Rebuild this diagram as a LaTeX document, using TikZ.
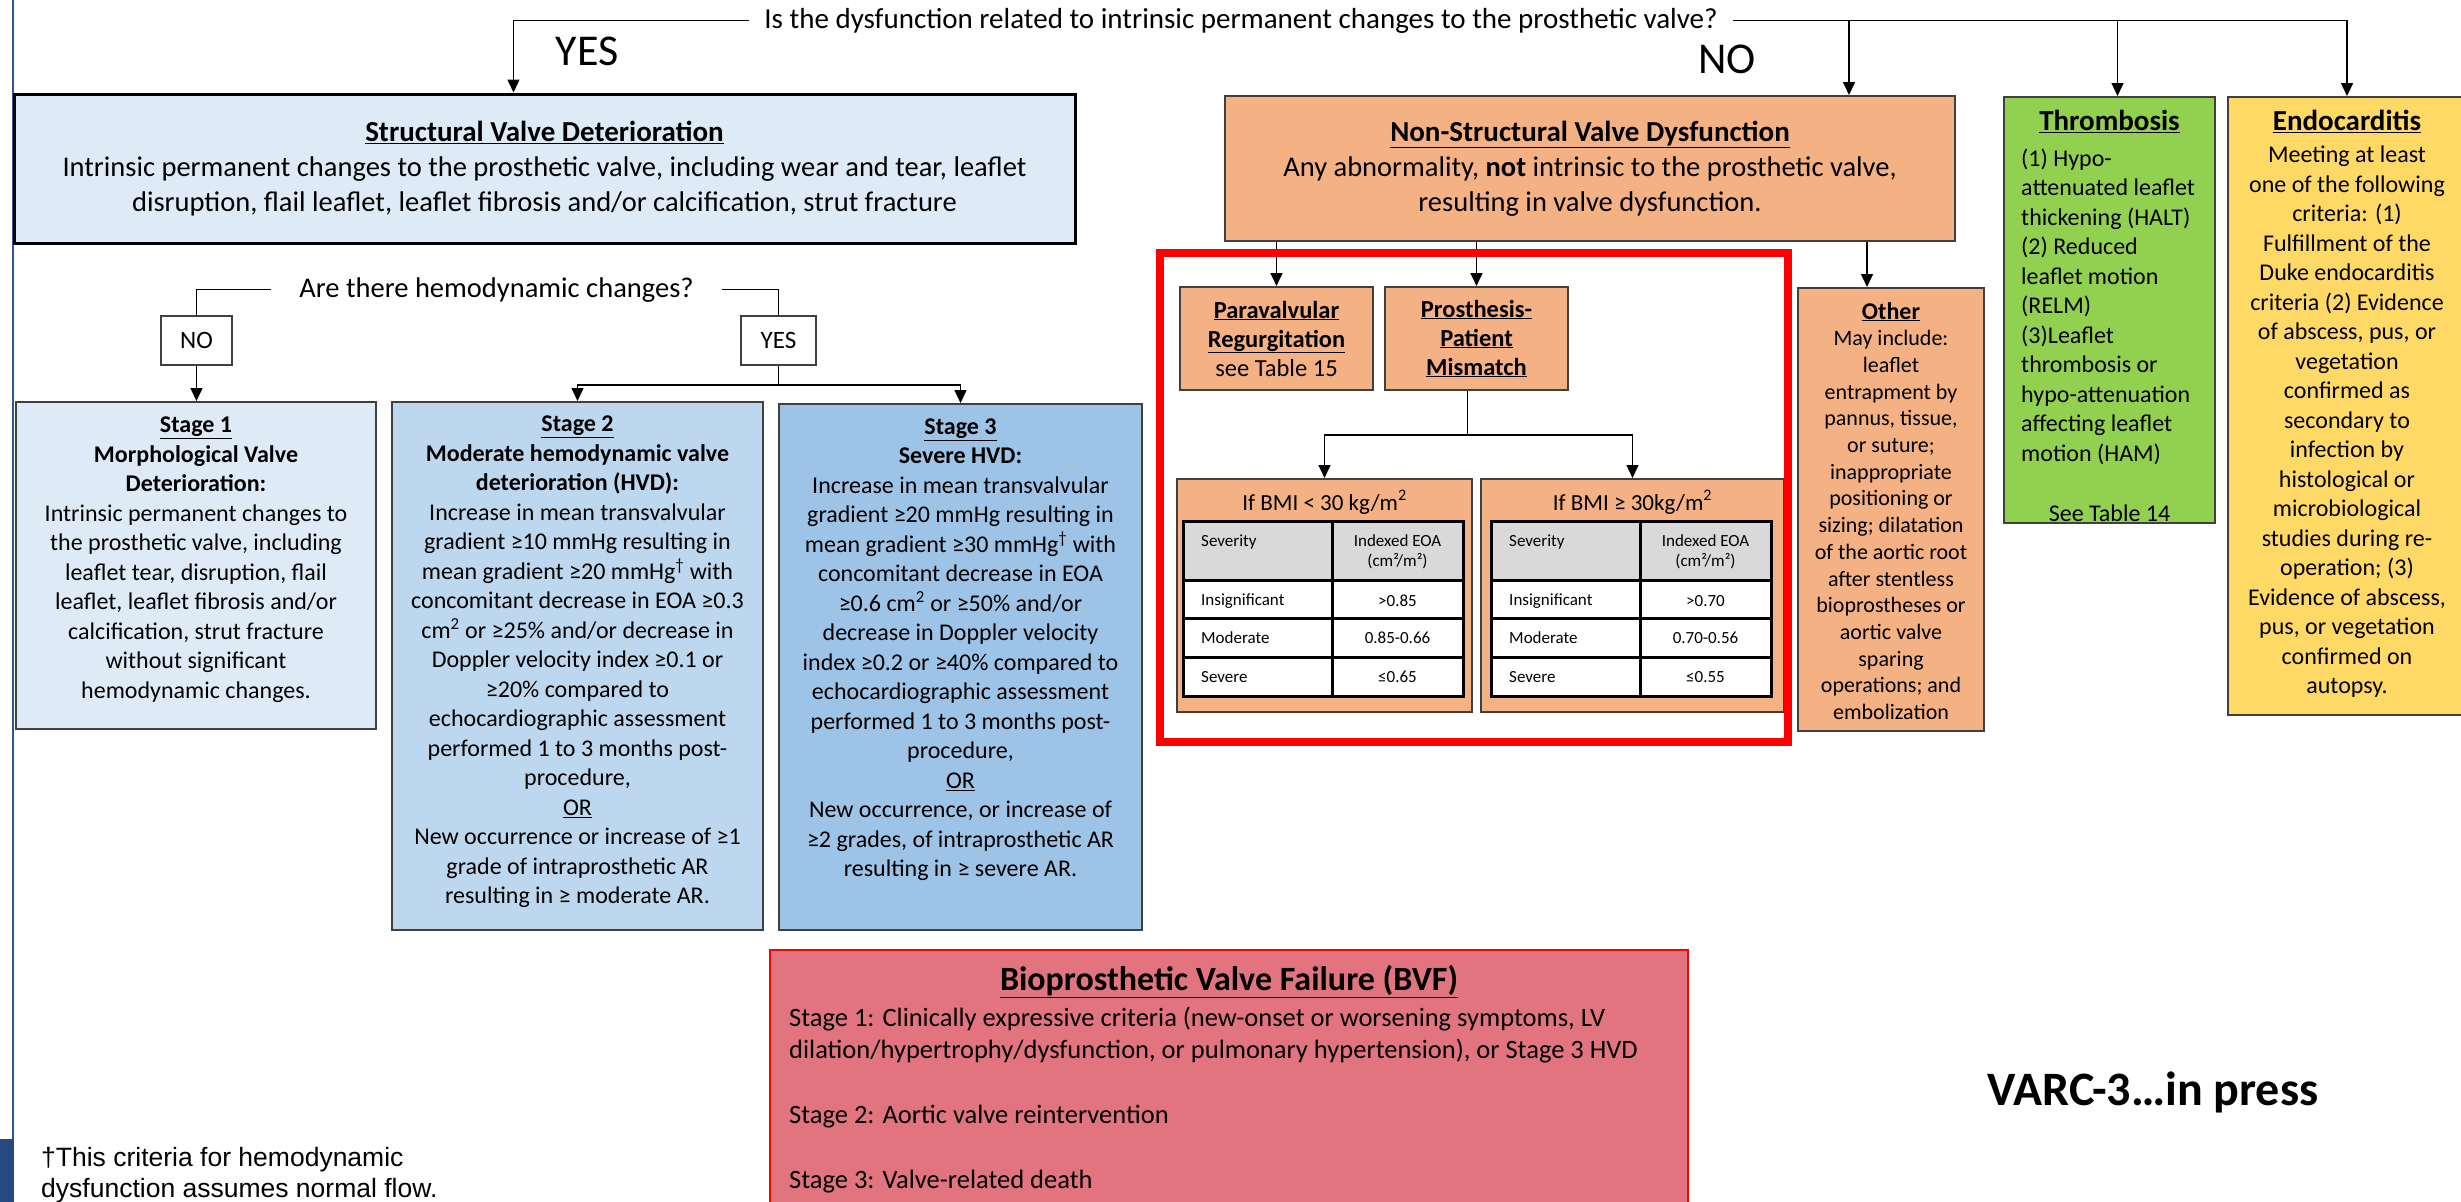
\documentclass[tikz,border=0pt]{standalone}
\usepackage{fontspec}
\setmainfont{Carlito}
\newfontfamily\notefont{Liberation Sans}
\usetikzlibrary{arrows.meta, positioning, calc}
\definecolor{Edge}{HTML}{404040}
\definecolor{PaleBlue}{HTML}{DEEBF7}
\definecolor{MidBlue}{HTML}{BDD7EE}
\definecolor{DeepBlue}{HTML}{9DC3E6}
\definecolor{Peach}{HTML}{F4B183}
\definecolor{Leaf}{HTML}{92D050}
\definecolor{Sun}{HTML}{FFD966}
\definecolor{Rose}{HTML}{E27480}
\definecolor{Alarm}{HTML}{FF0000}
\definecolor{HeadGrey}{HTML}{D9D9D9}
\definecolor{SideBlue}{HTML}{2F5597}
\newcommand{\fsz}[2]{\fontsize{#1}{#2}\selectfont}
\newcommand{\uttl}[1]{\underline{\textbf{#1}}}
% severity table of the mismatch boxes
\newcommand{\eoatable}[5]{%
  \begin{scope}[shift={#2}]
    \fill[HeadGrey] (0,0) rectangle (280,59);
    \fill[white] (0,59) rectangle (280,175);
    \draw[line width=3pt] (0,0) rectangle (280,175)
      (0,59) -- (280,59) (0,97) -- (280,97) (0,136) -- (280,136) (149,0) -- (149,175);
    \node[cell, anchor=west] (#1sev) at (18,21) {Severity};
    \node[cell] (#1eoa) at (214.5,31) {Indexed EOA\\(cm²/m²)};
    \node[cell, anchor=west] (#1ins) at (18,80) {Insignificant};
    \node[cell, anchor=west] (#1mod) at (18,117) {Moderate};
    \node[cell, anchor=west] (#1sevr) at (18,156) {Severe};
    \node[cell] (#1insv) at (214.5,80) {#3};
    \node[cell] (#1modv) at (214.5,117) {#4};
    \node[cell] (#1sevv) at (214.5,156) {#5};
  \end{scope}}

\begin{document}
\begin{tikzpicture}[x=1pt, y=-1pt,
  font=\fsz{24}{29.5},
  box/.style={draw=Edge, line width=2pt, inner sep=0pt, align=center},
  svdbox/.style={box, draw=black, line width=3pt, fill=PaleBlue},
  peach/.style={box, fill=Peach},
  txt/.style={inner sep=0pt, align=center},
  cell/.style={inner sep=0pt, align=center, font=\fsz{17}{20}},
  arr/.style={-{Triangle[length=13pt, width=12pt]}, line width=1.5pt},
  ln/.style={line width=1.5pt}
]
\useasboundingbox (0,0) rectangle (2461,1202);

% left margin rule
\draw[SideBlue, line width=2pt] (13,0) -- (13,1202);
\fill[SideBlue!85!black] (0,1139) rectangle (14,1202);

% first question
\node[txt, inner xsep=15pt, font=\fsz{29}{34}, anchor=base] (quest) at (1241,28) {Is the dysfunction related to intrinsic permanent changes to the prosthetic valve?};
\node[txt, font=\fsz{44}{52}, anchor=base] (bigyes) at (587,65) {YES};
\node[txt, font=\fsz{44}{52}, anchor=base] (bigno) at (1727,73) {NO};

\node[svdbox, minimum width=1061pt, minimum height=149pt, font=\fsz{28.5}{35}] (svd) at (544.5,168.5) {{\fsz{29}{35}\uttl{Structural Valve Deterioration}}\\Intrinsic permanent changes to the prosthetic valve, including wear and tear, leaflet\\disruption, flail leaflet, leaflet fibrosis and/or calcification, strut fracture};
\node[peach, minimum width=730pt, minimum height=145pt, font=\fsz{28.5}{35}] (nsvd) at (1590,168.5) {{\fsz{29}{35}\uttl{Non-Structural Valve Dysfunction}}\\Any abnormality, \textbf{not} intrinsic to the prosthetic valve,\\resulting in valve dysfunction.};

\node[box, fill=Leaf, minimum width=211pt, minimum height=426pt] (thromb) at (2109.5,310) {};
\node[txt, anchor=north, font=\fsz{29}{34}] (thrombttl) at ([yshift=-14pt]thromb.north) {\uttl{Thrombosis}};
\node[txt, anchor=north west, align=left] (thrombtxt) at (2021,148.4) {(1) Hypo-\\attenuated leaflet\\thickening (HALT)\\(2) Reduced\\leaflet motion\\(RELM)\\(3)Leaflet\\thrombosis or\\hypo-attenuation\\affecting leaflet\\motion (HAM)};
\node[txt] (thrombref) at (2109.5,513) {See Table 14};

\node[box, fill=Sun, minimum width=238pt, minimum height=618pt] (endo) at (2347,406) {};
\node[txt, anchor=north, font=\fsz{29}{34}] (endottl) at ([yshift=-14pt]endo.north) {\uttl{Endocarditis}};
\node[txt, anchor=north] (endotxt) at ([yshift=-50pt]endo.north) {Meeting at least\\one of the following\\criteria: (1)\\Fulfillment of the\\Duke endocarditis\\criteria (2) Evidence\\of abscess, pus, or\\vegetation\\confirmed as\\secondary to\\infection by\\histological or\\microbiological\\studies during re-\\operation; (3)\\Evidence of abscess,\\pus, or vegetation\\confirmed on\\autopsy.};

\coordinate (nsvdin) at ([xshift=259pt]nsvd.north);
\coordinate (thrin) at ([xshift=8pt]thromb.north);
\draw[arr] (quest.west) -| ([xshift=-31pt]svd.north);
\draw[arr] (quest.east) -| (endo.north);
\draw[arr] (quest.east -| nsvdin) -- (nsvdin);
\draw[arr] (quest.east -| thrin) -- (thrin);

% structural branch
\node[txt, inner xsep=28pt, font=\fsz{28.5}{34}, anchor=base] (hemoq) at (496.5,297) {Are there hemodynamic changes?};
\node[box, line width=1.5pt, minimum width=71pt, minimum height=49pt, font=\fsz{25}{30}] (noans) at (196.5,340.5) {NO};
\node[box, line width=1.5pt, minimum width=75pt, minimum height=49pt, font=\fsz{25}{30}] (yesans) at (778.5,340.5) {YES};

\node[box, fill=PaleBlue, minimum width=360pt, minimum height=327pt] (stage1) at (196,565.5) {};
\node[txt, anchor=north] (stage1txt) at ([yshift=-15.6pt]stage1.north) {\uttl{Stage 1}\\\textbf{Morphological Valve}\\\textbf{Deterioration:}\\Intrinsic permanent changes to\\the prosthetic valve, including\\leaflet tear, disruption, flail\\leaflet, leaflet fibrosis and/or\\calcification, strut fracture\\without significant\\hemodynamic changes.};

\node[box, fill=MidBlue, minimum width=371pt, minimum height=528pt] (stage2) at (577.5,666) {};
\node[txt, anchor=north] (stage2txt) at ([yshift=-15pt]stage2.north) {\uttl{Stage 2}\\\textbf{Moderate hemodynamic valve}\\\textbf{deterioration (HVD):}\\Increase in mean transvalvular\\gradient ≥10 mmHg resulting in\\mean gradient ≥20 mmHg\textsuperscript{†} with\\concomitant decrease in EOA ≥0.3\\cm\textsuperscript{2} or ≥25\% and/or decrease in\\Doppler velocity index ≥0.1 or\\≥20\% compared to\\echocardiographic assessment\\performed 1 to 3 months post-\\procedure,\\\underline{OR}\\New occurrence or increase of ≥1\\grade of intraprosthetic AR\\resulting in ≥ moderate AR.};

\node[box, fill=DeepBlue, minimum width=363pt, minimum height=526pt] (stage3) at (960.5,667) {};
\node[txt, anchor=north] (stage3txt) at ([yshift=-15.4pt]stage3.north) {\uttl{Stage 3}\\\textbf{Severe HVD:}\\Increase in mean transvalvular\\gradient ≥20 mmHg resulting in\\mean gradient ≥30 mmHg\textsuperscript{†} with\\concomitant decrease in EOA\\≥0.6 cm\textsuperscript{2} or ≥50\% and/or\\decrease in Doppler velocity\\index ≥0.2 or ≥40\% compared to\\echocardiographic assessment\\performed 1 to 3 months post-\\procedure,\\\underline{OR}\\New occurrence, or increase of\\≥2 grades, of intraprosthetic AR\\resulting in ≥ severe AR.};

\coordinate (yesfork) at ([yshift=-19pt]yesans.south);
\draw[ln] (hemoq.west) -| (noans.north);
\draw[ln] (hemoq.east) -| (yesans.north);
\draw[arr] (noans.south) -- (noans.south |- stage1.north);
\draw[ln] (yesans.south) -- (yesfork);
\draw[arr] (yesfork) -| (stage2.north);
\draw[arr] (yesfork) -| (stage3.north);

% non-structural branch
\node[peach, minimum width=193pt, minimum height=103pt, font=\fsz{24.5}{29}] (para) at (1276.5,338.5) {\uttl{Paravalvular}\\\uttl{Regurgitation}\\see Table 15};
\node[peach, minimum width=183pt, minimum height=103pt, font=\fsz{24.5}{29}] (ppm) at (1476.5,338.5) {\uttl{Prosthesis-}\\\uttl{Patient}\\\uttl{Mismatch}};
\node[peach, minimum width=186pt, minimum height=443pt] (other) at (1891,509.5) {};
\node[txt, anchor=north, font=\fsz{22}{26.7}] (othertxt) at ([yshift=-15pt]other.north) {{\fsz{24}{26.7}\uttl{Other}}\\May include:\\leaflet\\entrapment by\\pannus, tissue,\\or suture;\\inappropriate\\positioning or\\sizing; dilatation\\of the aortic root\\after stentless\\bioprostheses or\\aortic valve\\sparing\\operations; and\\embolization};

\node[peach, minimum width=295pt, minimum height=233pt] (bmilow) at (1324.5,595.5) {};
\node[txt, anchor=base, font=\fsz{23}{27}] (bmilowttl) at (1324.5,510) {If BMI < 30 kg/m\textsuperscript{2}};
\node[peach, minimum width=303pt, minimum height=233pt] (bmihigh) at (1632.5,595.5) {};
\node[txt, anchor=base, font=\fsz{23}{27}] (bmihighttl) at (1632.5,510) {If BMI ≥ 30kg/m\textsuperscript{2}};
\eoatable{lo}{(1183,521)}{>0.85}{0.85-0.66}{≤0.65}
\eoatable{hi}{(1491,521)}{>0.70}{0.70-0.56}{≤0.55}

\coordinate (othin) at ([xshift=-24pt]other.north);
\coordinate (ppmfork) at ([xshift=-9pt,yshift=-44pt]ppm.south);
\draw[arr] (nsvd.south -| para.north) -- (para.north);
\draw[arr] (nsvd.south -| ppm.north) -- (ppm.north);
\draw[arr] (nsvd.south -| othin) -- (othin);
\draw[ln] ([xshift=-9pt]ppm.south) -- (ppmfork);
\draw[arr] (ppmfork) -| (bmilow.north);
\draw[arr] (ppmfork) -| (bmihigh.north);

\draw[Alarm, line width=8pt] (1160,253) rectangle (1788,742);

% failure stages
\node[box, draw=Alarm, fill=Rose, minimum width=918pt, minimum height=260pt] (bvf) at (1229,1080) {};
\node[txt, anchor=north, font=\fsz{34}{40}] (bvfttl) at ([yshift=-16pt]bvf.north) {\uttl{Bioprosthetic Valve Failure (BVF)}};
\node[txt, anchor=north west, align=left, font=\fsz{26.5}{32.5}] (bvftxt) at (789,1006.6) {Stage 1: Clinically expressive criteria (new-onset or worsening symptoms, LV\\dilation/hypertrophy/dysfunction, or pulmonary hypertension), or Stage 3 HVD\\[32.5pt]Stage 2: Aortic valve reintervention\\[32.5pt]Stage 3: Valve-related death};

\node[txt, anchor=north west, align=left, font=\notefont\fsz{26.5}{31}] (footnote) at (41,1147) {†This criteria for hemodynamic\\dysfunction assumes normal flow.};
\node[txt, anchor=base, font=\fsz{48}{56}\bfseries] (varc) at (2153,1105) {VARC-3…in press};
\end{tikzpicture}
\end{document}
